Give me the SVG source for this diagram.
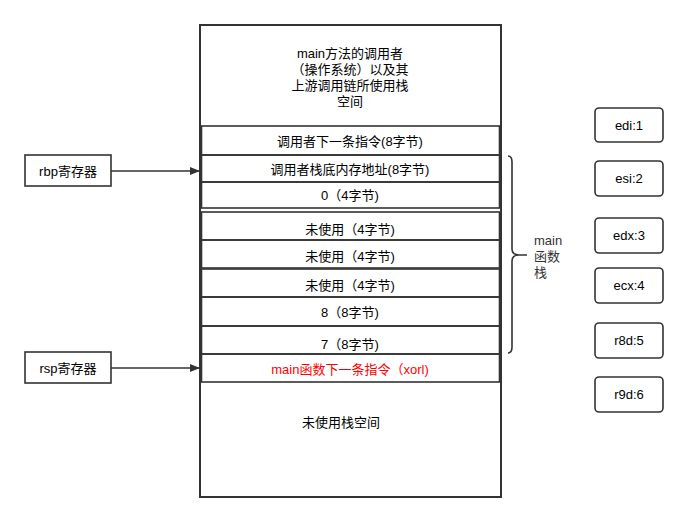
<svg xmlns="http://www.w3.org/2000/svg" width="687" height="523" viewBox="0 0 687 523">
<defs>
<style>
text{font-family:"Liberation Sans","Noto Sans CJK SC",sans-serif;font-size:13px;fill:#000;text-anchor:middle}
.box{fill:#fff;stroke:#333;stroke-width:2}
.row{fill:none;stroke:#333;stroke-width:1.6}
.reg{fill:#fff;stroke:#333;stroke-width:1.6}
.ln{fill:none;stroke:#333;stroke-width:1.6}
</style>
<marker id="ah" markerWidth="10" markerHeight="8" refX="9" refY="4" orient="auto" markerUnits="userSpaceOnUse">
<path d="M0,0 L10,4 L0,8 Z" fill="#333"/>
</marker>
</defs>
<rect width="687" height="523" fill="#fff"/>
<g id="stack">
<rect class="box" x="200" y="25" width="301" height="472"/>
<text x="350" y="58">main方法的调用者</text>
<text x="350" y="74">（操作系统）以及其</text>
<text x="350" y="90">上游调用链所使用栈</text>
<text x="350" y="106">空间</text>
</g>
<g id="row1"><rect class="row" x="201.5" y="126" width="298" height="29"/><text x="350" y="146">调用者下一条指令(8字节)</text></g>
<g id="row2"><rect class="row" x="201.5" y="155" width="298" height="27"/><text x="350" y="174">调用者栈底内存地址(8字节)</text></g>
<g id="row3"><rect class="row" x="201.5" y="182" width="298" height="26"/><text x="350" y="200">0（4字节)</text></g>
<g id="row4"><rect class="row" x="201.5" y="212" width="298" height="28"/><text x="350" y="234">未使用（4字节)</text></g>
<g id="row5"><rect class="row" x="201.5" y="240" width="298" height="28"/><text x="350" y="261">未使用（4字节)</text></g>
<g id="row6"><rect class="row" x="201.5" y="269" width="298" height="28"/><text x="350" y="290">未使用（4字节)</text></g>
<g id="row7"><rect class="row" x="201.5" y="297" width="298" height="29"/><text x="350" y="317">8（8字节)</text></g>
<g id="row8"><rect class="row" x="201.5" y="326" width="298" height="28"/><text x="350" y="349">7（8字节)</text></g>
<g id="row9"><rect class="row" x="201.5" y="354" width="298" height="28"/><text x="350" y="374" style="fill:#ff0000">main函数下一条指令（xorl)</text></g>
<g id="unused"><text x="341" y="427">未使用栈空间</text></g>
<g id="rbp"><rect class="reg" x="25" y="155" width="86" height="31"/><text x="68" y="176">rbp寄存器</text></g>
<g id="rsp"><rect class="reg" x="25" y="352" width="86" height="31"/><text x="68" y="373">rsp寄存器</text></g>
<g id="brace">
<path class="ln" d="M508,156 Q512,156 512,162 L512,249 Q512,255 519,255 L527,255 M519,255 Q512,255 512,261 L512,347 Q512,353 508,353"/>
<text x="534" y="245" style="text-anchor:start;fill:#333">main</text>
<text x="534" y="261" style="text-anchor:start;fill:#333">函数</text>
<text x="534" y="277" style="text-anchor:start;fill:#333">栈</text>
</g>
<g id="edi"><rect class="reg" x="595" y="108" width="68" height="34" rx="4"/><text x="629" y="130">edi:1</text></g>
<g id="esi"><rect class="reg" x="595" y="161" width="68" height="35" rx="4"/><text x="629" y="183">esi:2</text></g>
<g id="edx"><rect class="reg" x="595" y="218" width="68" height="35" rx="4"/><text x="629" y="240">edx:3</text></g>
<g id="ecx"><rect class="reg" x="595" y="268" width="68" height="35" rx="4"/><text x="629" y="290">ecx:4</text></g>
<g id="r8d"><rect class="reg" x="595" y="323" width="68" height="35" rx="4"/><text x="629" y="345">r8d:5</text></g>
<g id="r9d"><rect class="reg" x="595" y="377" width="68" height="35" rx="4"/><text x="629" y="399">r9d:6</text></g>
<g id="connectors">
<line class="ln" x1="111" y1="171" x2="199" y2="171" marker-end="url(#ah)"/>
<line class="ln" x1="111" y1="368" x2="199" y2="368" marker-end="url(#ah)"/>
</g>
</svg>
